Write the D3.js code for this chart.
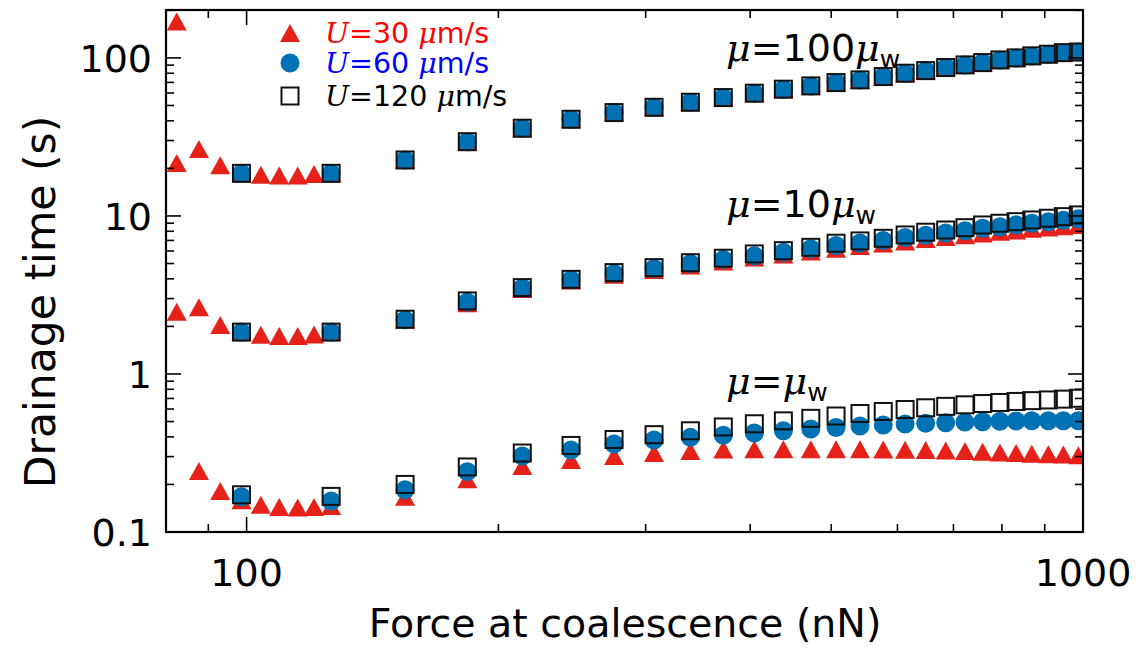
<!DOCTYPE html>
<html><head><meta charset="utf-8">
<script src="https://cdn.jsdelivr.net/npm/d3@7"></script>
<style>body{margin:0;background:#fff}svg{display:block}text{font-family:"DejaVu Sans",sans-serif}</style>
</head><body><svg id="c" width="1143" height="648"></svg>
<script>
// ---- data ----
const F_LOW = [82.5, 87.7, 93.0, 98.6, 104.0, 109.4, 115.1, 120.4, 126.2];
const F_MAIN = [98.6, 126.2, 154.7, 183.6, 213.6, 244.3, 275.0, 307.0, 339.3, 371.5, 404.6, 438.3, 472.7, 506.7, 541.2, 577.0, 612.8, 648.5, 685.2, 722.6, 758.6, 795.6, 831.8, 868.5, 909.0, 947.3, 987.2];
const F_U30 = F_LOW.concat(F_MAIN.slice(2));
const F_EXTRA = [82.5];
const T_EXTRA = [170];

const T120_mu100 = [18.6, 18.6, 22.6, 29.5, 35.9, 40.9, 45.1, 48.7, 52.4, 56.1, 59.8, 63.4, 66.5, 69.8, 72.6, 76.2, 80.0, 83.1, 86.9, 90.3, 93.4, 97.1, 100, 103, 105.5, 108, 109];
const T60_mu100 = [18.6, 18.6, 22.6, 29.5, 35.9, 40.9, 45.1, 48.7, 52.4, 56.1, 59.8, 63.4, 66.5, 69.8, 72.6, 76.2, 80.0, 83.1, 86.9, 90.3, 93.4, 97.1, 100, 103, 105.5, 108, 109];
const T30_mu100 = [21.6, 26.5, 20.9, 18.6, 18.2, 18.0, 18.0, 18.4, 18.6, 22.6, 29.5, 35.9, 40.9, 45.1, 48.7, 52.4, 56.1, 59.8, 63.4, 66.5, 69.8, 72.6, 76.2, 80.0, 83.1, 86.9, 90.3, 93.4, 97.1, 100, 103, 105.5, 108, 109];

const T120_mu10 = [1.84, 1.84, 2.22, 2.90, 3.52, 3.97, 4.38, 4.71, 5.06, 5.40, 5.75, 6.03, 6.33, 6.72, 6.95, 7.22, 7.58, 7.89, 8.15, 8.43, 8.77, 8.99, 9.20, 9.43, 9.67, 9.90, 10.15];
const T60_mu10 = [1.84, 1.84, 2.2, 2.85, 3.5, 3.95, 4.33, 4.65, 5.0, 5.3, 5.6, 5.9, 6.2, 6.5, 6.75, 7.0, 7.3, 7.55, 7.8, 8.05, 8.35, 8.55, 8.8, 9.0, 9.2, 9.4, 9.6];
const T30_mu10 = [2.48, 2.64, 2.04, 1.84, 1.77, 1.74, 1.74, 1.78, 1.84, 2.2, 2.8, 3.45, 3.9, 4.25, 4.55, 4.85, 5.15, 5.45, 5.7, 5.95, 6.2, 6.45, 6.7, 6.9, 7.15, 7.35, 7.55, 7.75, 7.95, 8.1, 8.3, 8.45, 8.6, 8.75];

const T120_mu1 = [0.172, 0.168, 0.200, 0.258, 0.316, 0.353, 0.385, 0.413, 0.437, 0.462, 0.484, 0.505, 0.524, 0.542, 0.562, 0.579, 0.596, 0.611, 0.624, 0.638, 0.650, 0.660, 0.670, 0.678, 0.685, 0.693, 0.702];
const T60_mu1 = [0.167, 0.157, 0.185, 0.241, 0.303, 0.330, 0.360, 0.382, 0.397, 0.410, 0.423, 0.437, 0.449, 0.458, 0.469, 0.476, 0.483, 0.487, 0.491, 0.496, 0.499, 0.502, 0.504, 0.506, 0.506, 0.506, 0.506];
const T30_mu1 = [null, 0.243, 0.182, 0.159, 0.149, 0.144, 0.143, 0.144, 0.146, 0.167, 0.216, 0.262, 0.286, 0.303, 0.316, 0.325, 0.333, 0.334, 0.334, 0.334, 0.334, 0.334, 0.333, 0.332, 0.330, 0.328, 0.326, 0.322, 0.319, 0.316, 0.313, 0.311, 0.309, 0.306];

const X_MAJOR = [100, 1000];
const X_MINOR = [90, 200, 300, 400, 500, 600, 700, 800, 900];
const Y_MAJOR = [0.1, 1, 10, 100];
const Y_MINOR = [0.2,0.3,0.4,0.5,0.6,0.7,0.8,0.9,2,3,4,5,6,7,8,9,20,30,40,50,60,70,80,90,200];
const X_LABELS = ["100", "1000"];
const Y_LABELS = ["0.1", "1", "10", "100"];

// ---- layout ----
const L = 166, R = 1083, T = 10, B = 532;
const svg = d3.select("#c");
const x = d3.scaleLog().domain([80.1, 1000]).range([L, R]);
const y = d3.scaleLog().domain([0.1, 201]).range([B, T]);

const RED = "#e5211a", BLUE = "#0071b3";
const zip = (fs, ts) => fs.map((f, i) => ({f, t: ts[i]})).filter(d => d.t != null);

const plot = svg.append("g");
plot.append("clipPath").attr("id", "clip").append("rect").attr("x", L).attr("y", T).attr("width", R - L).attr("height", B - T);
const marks = plot.append("g").attr("clip-path", "url(#clip)");

const triPath = "M0,-9L10,9L-10,9Z";
function tris(data) {
  marks.append("g").selectAll("path").data(data).join("path")
    .attr("d", triPath).attr("fill", RED)
    .attr("transform", d => `translate(${x(d.f)},${y(d.t)})`);
}
function circs(data) {
  marks.append("g").selectAll("circle").data(data).join("circle")
    .attr("cx", d => x(d.f)).attr("cy", d => y(d.t)).attr("r", 9.5).attr("fill", BLUE);
}
function squares(data) {
  marks.append("g").selectAll("rect").data(data).join("rect")
    .attr("x", d => x(d.f) - 8.5).attr("y", d => y(d.t) - 8.5).attr("width", 17).attr("height", 17)
    .attr("fill", "none").attr("stroke", "#111").attr("stroke-width", 2);
}
[T30_mu100, T30_mu10, T30_mu1].forEach(a => tris(zip(F_U30, a)));
tris(zip(F_EXTRA, T_EXTRA));
[T60_mu100, T60_mu10, T60_mu1].forEach(a => circs(zip(F_MAIN, a)));
[T120_mu100, T120_mu10, T120_mu1].forEach(a => squares(zip(F_MAIN, a)));

// ---- axes ----
const ax = svg.append("g").attr("stroke", "#000").attr("stroke-width", 1.6);
const tk = (xs, len, axis) => {
  xs.forEach(v => {
    if (axis === "x") {
      const px = x(v);
      ax.append("line").attr("x1", px).attr("x2", px).attr("y1", B).attr("y2", B - len);
      ax.append("line").attr("x1", px).attr("x2", px).attr("y1", T).attr("y2", T + len);
    } else {
      const py = y(v);
      ax.append("line").attr("y1", py).attr("y2", py).attr("x1", L).attr("x2", L + len);
      ax.append("line").attr("y1", py).attr("y2", py).attr("x1", R).attr("x2", R - len);
    }
  });
};
tk(X_MAJOR, 15, "x"); tk(X_MINOR, 8, "x");
tk(Y_MAJOR, 15, "y"); tk(Y_MINOR, 8, "y");
svg.append("rect").attr("x", L).attr("y", T).attr("width", R - L).attr("height", B - T)
  .attr("fill", "none").attr("stroke", "#000").attr("stroke-width", 2.2);

// tick labels
svg.append("g").selectAll("text").data(X_MAJOR).join("text")
  .attr("x", d => x(d)).attr("y", 586).attr("text-anchor", "middle")
  .attr("font-size", 38).text((d, i) => X_LABELS[i]);
svg.append("g").selectAll("text").data(Y_MAJOR).join("text")
  .attr("x", 152).attr("y", d => y(d)).attr("dy", "0.36em").attr("text-anchor", "end")
  .attr("font-size", 38).text((d, i) => Y_LABELS[i]);

// axis titles
svg.append("text").attr("x", 625).attr("y", 637).attr("text-anchor", "middle")
  .attr("font-size", 39.5).text("Force at coalescence (nN)");
svg.append("text").attr("transform", "translate(55,302) rotate(-90)").attr("text-anchor", "middle")
  .attr("font-size", 42.5).text("Drainage time (s)");

// legend
const LEG = [
  {kind: "tri", col: "#ff0000", num: "30", y: 33},
  {kind: "circ", col: "#0000ff", num: "60", y: 63},
  {kind: "sq", col: "#000000", num: "120", y: 96}
];
const lg = svg.append("g");
LEG.forEach(d => {
  if (d.kind === "tri") lg.append("path").attr("d", triPath).attr("fill", RED).attr("transform", `translate(290,${d.y})`);
  if (d.kind === "circ") lg.append("circle").attr("cx", 290).attr("cy", d.y).attr("r", 9.5).attr("fill", BLUE);
  if (d.kind === "sq") lg.append("rect").attr("x", 281.5).attr("y", d.y - 8.5).attr("width", 17).attr("height", 17).attr("fill", "none").attr("stroke", "#111").attr("stroke-width", 2);
  const t = lg.append("text").attr("x", 325).attr("y", d.y).attr("dy", "0.36em").attr("font-size", 28.5).attr("fill", d.col);
  t.append("tspan").attr("font-family", "DejaVu Serif").attr("font-style", "italic").text("U");
  t.append("tspan").text("=" + d.num + " ");
  t.append("tspan").attr("font-family", "DejaVu Serif").attr("font-style", "italic").text("μ");
  t.append("tspan").text("m/s");
});

// annotations
const ANN = [{pre: "=100", y: 47}, {pre: "=10", y: 203}, {pre: "=", y: 380}];
ANN.forEach(d => {
  const t = svg.append("text").attr("x", 726).attr("y", d.y).attr("dy", "0.36em").attr("font-size", 38);
  t.append("tspan").attr("font-family", "DejaVu Serif").attr("font-style", "italic").text("μ");
  t.append("tspan").text(d.pre);
  t.append("tspan").attr("font-family", "DejaVu Serif").attr("font-style", "italic").text("μ");
  t.append("tspan").attr("font-size", 25).attr("dy", "0.3em").text("w");
});
</script></body></html>
